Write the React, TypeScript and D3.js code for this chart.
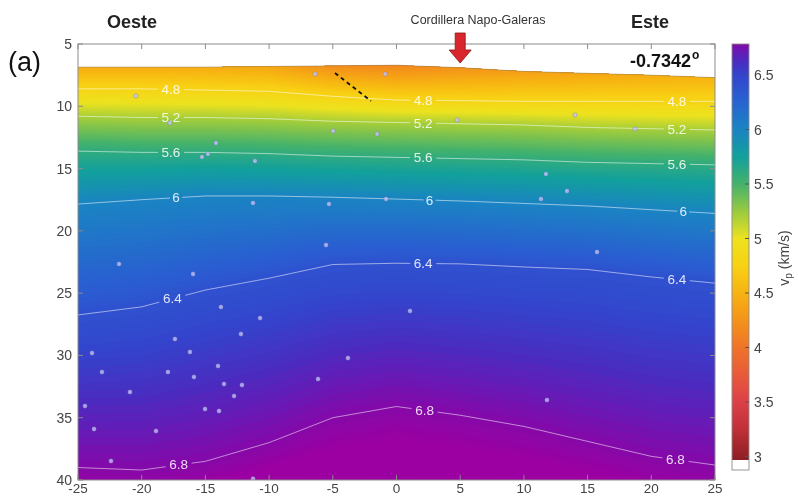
import React from 'react';
import * as d3 from 'd3';

// ---------- data ----------
const xKnots = [-25, -20, -15, -10, -5, 0, 5, 10, 15, 20, 25];
const surfaceDepth = [6.85, 6.85, 6.85, 6.8, 6.75, 6.7, 6.9, 7.2, 7.35, 7.5, 7.7];
const surfaceVel = [4.45, 4.45, 4.45, 4.4, 4.2, 4.15, 4.25, 4.35, 4.4, 4.45, 4.5];
const contourLevels = [4.8, 5.2, 5.6, 6.0, 6.4, 6.8];
const contourNames = ['4.8', '5.2', '5.6', '6', '6.4', '6.8'];
const depth48 = [8.6, 8.6, 8.7, 8.8, 9.2, 9.5, 9.55, 9.6, 9.6, 9.6, 9.6];
const depth52 = [10.8, 10.9, 10.9, 11.0, 11.2, 11.3, 11.4, 11.5, 11.7, 11.8, 11.9];
const depth56 = [13.6, 13.7, 13.7, 13.8, 14.0, 14.1, 14.2, 14.3, 14.5, 14.6, 14.7];
const depth60 = [17.85, 17.5, 17.2, 17.2, 17.3, 17.45, 17.6, 17.8, 18.0, 18.3, 18.6];
const depth64 = [26.75, 26.1, 24.75, 23.8, 22.7, 22.6, 22.65, 22.9, 23.1, 23.7, 24.2];
const depth68 = [39.0, 39.2, 38.5, 37.0, 35.0, 34.1, 34.8, 35.7, 36.9, 38.1, 38.8];
const bottomVel = [6.85, 6.84, 6.88, 6.95, 7.0, 7.02, 7.0, 6.97, 6.93, 6.88, 6.85];
const labelX48 = [-17.7, 2.1, 22.0];
const labelX52 = [-17.7, 2.1, 22.0];
const labelX56 = [-17.7, 2.1, 22.0];
const labelX60 = [-17.3, 2.6, 22.5];
const labelX64 = [-17.6, 2.1, 22.0];
const labelX68 = [-17.1, 2.2, 21.9];

const quakeX = [-20.45, -6.4, -0.9, 4.75, 14.01, 18.72, -4.98, -1.53, -17.78, -14.17, -14.8, -15.27, -11.11,
  -11.26, -5.3, -0.82, 11.34, 11.73, 13.38, -5.53, 15.74, -21.78, -15.97, -13.78, -10.71, 1.06, -17.39, -12.21,
  -16.21, -23.9, -3.81, -23.12, -17.94, -15.9, -14.01, -13.54, -12.13, -6.16, -12.75, -20.92, -24.45, -15.03,
  -13.93, 11.81, -23.74, -18.88, -22.41, -11.26];
const quakeZ = [9.17, 7.41, 7.41, 11.1, 10.7, 11.82, 11.98, 12.22, 11.34, 12.95, 13.83, 14.07, 14.39,
  17.76, 17.84, 17.44, 17.44, 15.44, 16.8, 21.14, 21.7, 22.66, 23.46, 26.11, 27.0, 26.43, 28.68, 28.28,
  29.72, 29.81, 30.21, 31.33, 31.33, 31.73, 30.85, 32.29, 32.37, 31.89, 33.26, 32.94, 34.06, 34.3,
  34.46, 33.58, 35.91, 36.07, 38.48, 39.9];

const xTickValues = [-25, -20, -15, -10, -5, 0, 5, 10, 15, 20, 25];
const yTickValues = [5, 10, 15, 20, 25, 30, 35, 40];
const cbTickValues = [3, 3.5, 4, 4.5, 5, 5.5, 6, 6.5];

const colorStopVals = [2.95, 3.25, 3.5, 3.75, 4.0, 4.25, 4.5, 4.75, 5.0, 5.25, 5.5, 5.75, 6.0, 6.3, 6.5, 6.62, 6.72, 6.8, 6.9];
const colorStopHex = ['#8a1c22', '#c03038', '#dc4048', '#e85a3a', '#ef7428', '#f4931a', '#f7b312', '#f8d114',
  '#ede21e', '#98ca40', '#44b26c', '#12a09c', '#1a84c2', '#2a5ed2', '#3444cc', '#4a2cc0', '#6a18b4', '#8608a8', '#9c00a2'];

const dashStart = [-4.83, 7.33];
const dashEnd = [-2.0, 9.58];
const arrowX = 5;

// ---------- layout ----------
const W = 798, H = 497;
const PL = 78, PR = 715, PT = 44, PB = 480;
const CBL = 732, CBR = 749, CBT = 44, CBB = 460;
const FONT = '"Liberation Sans", Arial, Helvetica, sans-serif';

export default function App() {
  const x = d3.scaleLinear().domain([-25, 25]).range([PL, PR]);
  const y = d3.scaleLinear().domain([5, 40]).range([PT, PB]);
  const color = d3.scaleLinear<string>().domain(colorStopVals).range(colorStopHex)
    .interpolate(d3.interpolateRgb).clamp(true);

  const interp = (arr: number[]) => d3.scaleLinear().domain(xKnots).range(arr);
  const sD = interp(surfaceDepth), sV = interp(surfaceVel), bV = interp(bottomVel);
  const cD = [depth48, depth52, depth56, depth60, depth64, depth68].map(interp);
  const labelXs = [labelX48, labelX52, labelX56, labelX60, labelX64, labelX68];

  const depthAt = (v: number, xx: number) => {
    const depths = [sD(xx), ...cD.map(f => f(xx)), 40];
    const vels = [sV(xx), ...contourLevels, bV(xx)];
    if (v <= vels[0]) return depths[0];
    for (let i = 0; i < vels.length - 1; i++) {
      if (v <= vels[i + 1]) {
        return depths[i] + (v - vels[i]) / (vels[i + 1] - vels[i]) * (depths[i + 1] - depths[i]);
      }
    }
    return 40;
  };

  const xs = d3.range(-25, 25.001, 0.25);
  const step = 0.02;
  const levels = d3.range(4.1, 7.06, step);

  const bandPaths = levels.map(L => {
    const a = d3.area<number>().x(d => x(d)).y0(d => y(depthAt(L, d))).y1(y(40));
    return { d: a(xs) as string, fill: color(L + step / 2) };
  });
  const baseArea = d3.area<number>().x(d => x(d)).y0(d => y(sD(d))).y1(y(40))(xs) as string;
  const surfaceLine = d3.line<number>().x(d => x(d)).y(d => y(sD(d)))(xs) as string;

  const contourPaths = contourLevels.map(L => d3.line<number>().x(d => x(d)).y(d => y(depthAt(L, d)))(xs) as string);

  const labels: { x: number; y: number; t: string; w: number }[] = [];
  contourLevels.forEach((L, i) => {
    labelXs[i].forEach(lx => {
      labels.push({ x: x(lx), y: y(depthAt(L, lx)), t: contourNames[i], w: contourNames[i].length > 1 ? 26 : 12 });
    });
  });

  const cbY = d3.scaleLinear().domain([3, 6.5]).range([456.5, 75]);
  const cbRows = d3.range(CBT, CBB, 1);

  const ax = x(arrowX);

  return (
    <svg width={W} height={H} style={{ position: 'absolute', left: 0, top: 0, background: '#fff' }}
      fontFamily={FONT}>
      <defs>
        <clipPath id="plotclip"><rect x={PL} y={PT} width={PR - PL} height={PB - PT} /></clipPath>
        <mask id="lblmask">
          <rect x={0} y={0} width={W} height={H} fill="#fff" />
          {labels.map((l, i) => (
            <rect key={i} x={l.x - l.w / 2} y={l.y - 7} width={l.w} height={14} fill="#000" />
          ))}
        </mask>
      </defs>
      <rect x={0} y={0} width={W} height={H} fill="#fff" />

      <g clipPath="url(#plotclip)">
        <path d={baseArea} fill={color(4.1)} />
        {bandPaths.map((b, i) => <path key={i} d={b.d} fill={b.fill} />)}
        <path d={surfaceLine} fill="none" stroke="#8a8060" strokeWidth={0.8} opacity={0.6} />
        <g mask="url(#lblmask)">
          {contourPaths.map((p, i) => (
            <path key={i} d={p} fill="none" stroke="#ffffff" strokeWidth={0.9} opacity={0.6} />
          ))}
        </g>
        {labels.map((l, i) => (
          <text key={i} x={l.x} y={l.y} textAnchor="middle" dominantBaseline="central" fontSize={13.5}
            fill="#ffffff" opacity={0.85}>{l.t}</text>
        ))}
        {quakeX.map((qx, i) => (
          <circle key={i} cx={x(qx)} cy={y(quakeZ[i])} r={2.2} fill="#c4c4ff" fillOpacity={0.78}
            stroke="#6a6a9a" strokeOpacity={0.55} strokeWidth={0.6} />
        ))}
        <line x1={x(dashStart[0])} y1={y(dashStart[1])} x2={x(dashEnd[0])} y2={y(dashEnd[1])}
          stroke="#111" strokeWidth={1.8} strokeDasharray="4,3.5" />
      </g>

      {/* frame and ticks */}
      <rect x={PL} y={PT} width={PR - PL} height={PB - PT} fill="none" stroke="#8c8c8c" strokeWidth={1} />
      {xTickValues.map(t => (
        <g key={'xt' + t}>
          <line x1={x(t)} x2={x(t)} y1={PT} y2={PT + 5} stroke="#8c8c8c" />
          <line x1={x(t)} x2={x(t)} y1={PB} y2={PB - 5} stroke="#8c8c8c" />
          <text x={x(t)} y={493} textAnchor="middle" fontSize={13.5} fill="#444">{t}</text>
        </g>
      ))}
      {yTickValues.map(t => (
        <g key={'yt' + t}>
          <line x1={PL} x2={PL + 5} y1={y(t)} y2={y(t)} stroke="#8c8c8c" />
          <line x1={PR} x2={PR - 5} y1={y(t)} y2={y(t)} stroke="#8c8c8c" />
          <text x={72} y={y(t)} textAnchor="end" dominantBaseline="central" fontSize={14} fill="#444">{t}</text>
        </g>
      ))}

      {/* colorbar */}
      {cbRows.map(r => (
        <rect key={r} x={CBL} y={r} width={CBR - CBL} height={1.2} fill={color(cbY.invert(r + 0.5))} />
      ))}
      <rect x={CBL} y={CBB} width={CBR - CBL} height={10} fill="#fff" />
      <rect x={CBL} y={CBT} width={CBR - CBL} height={CBB + 10 - CBT} fill="none" stroke="#8c8c8c" strokeWidth={0.9} />
      {cbTickValues.map(t => (
        <g key={'cb' + t}>
          <line x1={CBR - 4} x2={CBR} y1={cbY(t)} y2={cbY(t)} stroke="#555" />
          <text x={754} y={cbY(t)} dominantBaseline="central" fontSize={14} fill="#444">{t}</text>
        </g>
      ))}
      <text transform="translate(789,258) rotate(-90)" textAnchor="middle" fontSize={14} fill="#444">
        v<tspan fontSize={10} dy={3}>p</tspan><tspan dy={-3}> (km/s)</tspan>
      </text>

      {/* annotations */}
      <text x={132} y={28} textAnchor="middle" fontSize={18} fontWeight="bold" fill="#222">Oeste</text>
      <text x={650} y={28} textAnchor="middle" fontSize={18} fontWeight="bold" fill="#222">Este</text>
      <text x={478} y={24} textAnchor="middle" fontSize={12.5} fill="#333">Cordillera Napo-Galeras</text>
      <text x={8} y={71} fontSize={27} fill="#111">(a)</text>
      <text x={691} y={67} textAnchor="end" fontSize={18} fontWeight="bold" fill="#111">-0.7342</text>
      <text x={692} y={59} fontSize={12} fontWeight="bold" fill="#111">o</text>
      <path d={`M${ax - 5},33 L${ax + 5},33 L${ax + 5},50 L${ax + 11},50 L${ax},63 L${ax - 11},50 L${ax - 5},50 Z`}
        fill="#d8262c" stroke="#8a1414" strokeWidth={0.8} />
    </svg>
  );
}
